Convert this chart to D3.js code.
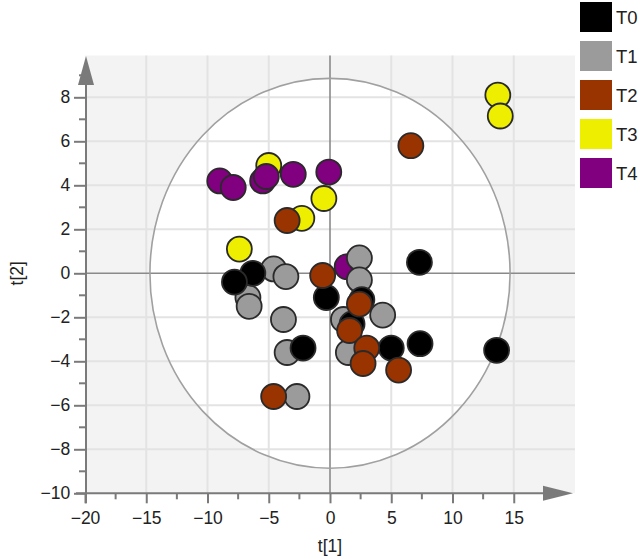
<!DOCTYPE html>
<html>
<head>
<meta charset="utf-8">
<script src="https://cdn.jsdelivr.net/npm/d3@7"></script>
<style>
  body { margin: 0; background: #fff; }
  svg { display: block; font-family: "Liberation Sans", Arial, sans-serif; }
</style>
</head>
<body>
<div id="chart"></div>
<script>
// Score plot t[1] vs t[2], five groups

const groups = ['T0', 'T1', 'T2', 'T3', 'T4'];
const groupColors = ['#000000', '#9b9b9b', '#993300', '#eeee00', '#800080'];

// [t1, t2] per sample
const t0 = [[7.3, 0.5], [13.6, -3.5], [7.35, -3.2], [5.0, -3.4], [-6.3, 0.0], [-7.8, -0.4],
            [-0.3, -1.1], [2.6, -1.2], [1.8, -2.3], [-2.2, -3.4]];
const t1 = [[-4.6, 0.2], [-3.6, -0.15], [-6.7, -1.1], [-6.6, -1.5], [-3.8, -2.1], [-3.5, -3.6],
            [-2.7, -5.6], [2.4, 0.7], [2.4, -0.3], [1.1, -2.1], [4.3, -1.9], [1.5, -3.6]];
const t2 = [[6.6, 5.8], [-3.5, 2.4], [-0.6, -0.1], [2.4, -1.4], [1.6, -2.6], [3.0, -3.4],
            [2.7, -4.1], [5.6, -4.4], [-4.6, -5.6]];
const t3 = [[13.7, 8.1], [13.9, 7.15], [-5.0, 4.9], [-2.3, 2.5], [-0.5, 3.4], [-7.4, 1.1]];
const t4 = [[-9.0, 4.2], [-7.9, 3.9], [-5.5, 4.2], [-5.2, 4.4], [-3.0, 4.5], [-0.1, 4.6], [1.4, 0.3]];

// drawing order (later = on top)
const drawOrder = [
  { group: 'T3', values: t3 },
  { group: 'T4', values: t4 },
  { group: 'T1', values: t1 },
  { group: 'T0', values: t0 },
  { group: 'T2', values: t2 }
];

const xTicks = [-20, -15, -10, -5, 0, 5, 10, 15];
const yTicks = [-10, -8, -6, -4, -2, 0, 2, 4, 6, 8];
const ellipseRadius = [14.7, 8.86]; // Hotelling T2 ellipse semi-axes

const width = 640, height = 559;
const svg = d3.select('#chart').append('svg')
  .attr('width', width)
  .attr('height', height);

const x = d3.scaleLinear().domain([-20, 20]).range([85, 575]);
const y = d3.scaleLinear().domain([-10, 10]).range([493.3, 53.3]);
const color = d3.scaleOrdinal().domain(groups).range(groupColors);

// plot background
svg.append('rect')
  .attr('x', x(-20)).attr('y', 55.5)
  .attr('width', x(20) - x(-20)).attr('height', y(-10) - 55.5)
  .attr('fill', '#f3f3f3');

// ellipse fill
svg.append('ellipse')
  .attr('cx', x(0)).attr('cy', y(0))
  .attr('rx', x(ellipseRadius[0]) - x(0))
  .attr('ry', y(0) - y(ellipseRadius[1]))
  .attr('fill', '#ffffff');

// grid
const grid = svg.append('g').attr('stroke', '#e3e3e3').attr('stroke-width', 2);
grid.selectAll('line.gx')
  .data(xTicks.filter(d => d !== 0 && d !== -20))
  .enter().append('line')
  .attr('x1', d => x(d)).attr('x2', d => x(d))
  .attr('y1', 55.5).attr('y2', y(-10));
grid.selectAll('line.gy')
  .data(yTicks.filter(d => d !== 0 && d !== -10))
  .enter().append('line')
  .attr('x1', x(-20)).attr('x2', x(20))
  .attr('y1', d => y(d)).attr('y2', d => y(d));

// zero lines
svg.append('line')
  .attr('x1', x(0)).attr('x2', x(0)).attr('y1', 55.5).attr('y2', y(-10))
  .attr('stroke', '#8a8a8a').attr('stroke-width', 1.6);
svg.append('line')
  .attr('x1', x(-20)).attr('x2', x(20)).attr('y1', y(0)).attr('y2', y(0))
  .attr('stroke', '#8a8a8a').attr('stroke-width', 1.6);

// ellipse outline
svg.append('ellipse')
  .attr('cx', x(0)).attr('cy', y(0))
  .attr('rx', x(ellipseRadius[0]) - x(0))
  .attr('ry', y(0) - y(ellipseRadius[1]))
  .attr('fill', 'none')
  .attr('stroke', '#a0a0a0')
  .attr('stroke-width', 1.6);

// axes
const axisColor = '#7a7a7a';
const xAxisG = svg.append('g')
  .attr('transform', `translate(0,${y(-10)})`)
  .call(d3.axisBottom(x).tickValues(xTicks).tickSize(10).tickSizeOuter(0).tickFormat(d3.format('d')));
const yAxisG = svg.append('g')
  .attr('transform', `translate(${x(-20)},0)`)
  .call(d3.axisLeft(y).tickValues(yTicks).tickSize(11).tickSizeOuter(0).tickFormat(d3.format('d')));

[xAxisG, yAxisG].forEach(g => {
  g.select('.domain').remove();
  g.selectAll('.tick line').attr('stroke', axisColor).attr('stroke-width', 2);
  g.selectAll('.tick text')
    .attr('fill', '#222')
    .style('font-size', '17.5px')
    .style('font-family', '"Liberation Sans", Arial, sans-serif');
});
xAxisG.selectAll('.tick text').attr('dy', '1.0em');
yAxisG.selectAll('.tick text').attr('dx', '-0.05em');

// minor ticks
const xMinor = d3.range(-17.5, 20, 5);
const yMinor = d3.range(-9, 10, 2);
svg.append('g').selectAll('line')
  .data(xMinor).enter().append('line')
  .attr('x1', d => x(d)).attr('x2', d => x(d))
  .attr('y1', y(-10)).attr('y2', y(-10) + 6)
  .attr('stroke', axisColor).attr('stroke-width', 2);
svg.append('g').selectAll('line')
  .data(yMinor).enter().append('line')
  .attr('x1', x(-20) - 6).attr('x2', x(-20))
  .attr('y1', d => y(d)).attr('y2', d => y(d))
  .attr('stroke', axisColor).attr('stroke-width', 2);

// axis lines with arrows
svg.append('line')
  .attr('x1', x(-20) - 9).attr('x2', 550)
  .attr('y1', y(-10)).attr('y2', y(-10))
  .attr('stroke', axisColor).attr('stroke-width', 2);
svg.append('line')
  .attr('x1', x(-20) + 1).attr('x2', x(-20) + 1)
  .attr('y1', y(-10) + 10).attr('y2', 80)
  .attr('stroke', axisColor).attr('stroke-width', 2);
svg.append('path')
  .attr('d', `M573,${y(-10)} L543,${y(-10) - 7.5} L543,${y(-10) + 7.5} Z`)
  .attr('fill', axisColor);
svg.append('path')
  .attr('d', `M${x(-20) + 1},56 L${x(-20) - 7},85 L${x(-20) + 9},85 Z`)
  .attr('fill', axisColor);

// axis titles
svg.append('text')
  .attr('x', x(0)).attr('y', 552)
  .attr('text-anchor', 'middle')
  .attr('fill', '#222')
  .style('font-size', '17.5px')
  .text('t[1]');
svg.append('text')
  .attr('transform', `translate(23,${y(0)}) rotate(-90)`)
  .attr('text-anchor', 'middle')
  .attr('fill', '#222')
  .style('font-size', '17.5px')
  .text('t[2]');

// points
const pts = svg.append('g');
drawOrder.forEach(s => {
  pts.selectAll(null)
    .data(s.values)
    .enter().append('circle')
    .attr('cx', d => x(d[0]))
    .attr('cy', d => y(d[1]))
    .attr('r', 12.5)
    .attr('fill', color(s.group))
    .attr('stroke', '#2a2a2a')
    .attr('stroke-width', 1.8);
});

// legend
const legend = svg.append('g').selectAll('g')
  .data(groups).enter().append('g')
  .attr('transform', (d, i) => `translate(580,${2 + i * 39})`);
legend.append('rect')
  .attr('width', 32).attr('height', 30)
  .attr('fill', d => color(d));
legend.append('text')
  .attr('x', 36).attr('y', 22)
  .attr('fill', '#222')
  .style('font-size', '18.5px')
  .text(d => d);
</script>
</body>
</html>
